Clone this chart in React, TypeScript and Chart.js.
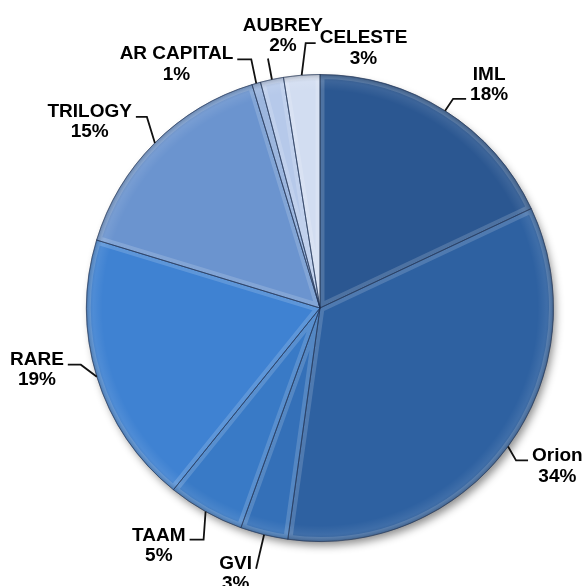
import React, { useEffect, useRef } from "react";
import { Chart, registerables } from "chart.js";

Chart.register(...registerables);

const CATEGORIES = ["IML", "Orion", "GVI", "TAAM", "RARE", "TRILOGY", "AR CAPITAL", "AUBREY", "CELESTE"];
const VALUES = [18.0, 34.2, 3.3, 5.3, 18.9, 15.6, 0.6, 1.6, 2.5];
const PERCENT_LABELS = ["18%", "34%", "3%", "5%", "19%", "15%", "1%", "2%", "3%"];
const COLORS = ["#2b5791", "#2e61a1", "#3470b8", "#397ac6", "#3f82d2", "#6b94cf", "#8aa8d8", "#b6c9ea", "#d2ddf1"];

// leader-line layout per label: elbow offset from slice edge, horizontal run, text side, name baseline offset
const LABEL_LAYOUT = [
  { elbow: [8, -12], run: 13, side: "right", nameDy: -19 },
  { elbow: [8, 14], run: 12, side: "right", nameDy: 1 },
  { elbow: [-8, 34], run: 0, side: "left", nameDy: 0 },
  { elbow: [-2, 28], run: -14, side: "left", nameDy: 1 },
  { elbow: [-16, -12], run: -13, side: "left", nameDy: 0 },
  { elbow: [-8, -26], run: -11, side: "left", nameDy: 0 },
  { elbow: [-5, -24], run: -14, side: "left", nameDy: 0 },
  { elbow: [-4, -21], run: 0, side: "above", nameDy: -28 },
  { elbow: [4, -32], run: 10, side: "right", nameDy: 0 },
];

const FONT = 'bold 19px "Liberation Sans", Arial, sans-serif';
const LINE_GAP = 20.5;

function arcPath(ctx: CanvasRenderingContext2D, p: any) {
  ctx.beginPath();
  ctx.moveTo(p.x, p.y);
  ctx.arc(p.x, p.y, p.outerRadius, p.startAngle, p.endAngle);
  ctx.closePath();
}

const shadowPlugin = {
  id: "pieShadow",
  beforeDatasetsDraw(chart: any) {
    const meta = chart.getDatasetMeta(0);
    const arc = meta.data[0];
    if (!arc) return;
    const { x, y, outerRadius } = arc.getProps(["x", "y", "outerRadius"], true);
    const ctx = chart.ctx;
    ctx.save();
    ctx.shadowColor = "rgba(0,0,0,0.45)";
    ctx.shadowBlur = 9;
    ctx.shadowOffsetX = 3;
    ctx.shadowOffsetY = 5;
    ctx.beginPath();
    ctx.arc(x, y, outerRadius - 1, 0, Math.PI * 2);
    ctx.fillStyle = "#2e61a1";
    ctx.fill();
    ctx.restore();
  },
  afterDatasetsDraw(chart: any) {
    const meta = chart.getDatasetMeta(0);
    const arc0 = meta.data[0];
    if (!arc0) return;
    const { x, y, outerRadius } = arc0.getProps(["x", "y", "outerRadius"], true);
    const ctx = chart.ctx;
    ctx.save();

    // bevel highlight along each slice's edges
    meta.data.forEach((arc: any) => {
      const p = arc.getProps(["x", "y", "startAngle", "endAngle", "outerRadius"], true);
      ctx.save();
      arcPath(ctx, p);
      ctx.clip();
      arcPath(ctx, p);
      ctx.lineJoin = "round";
      ctx.strokeStyle = "rgba(255,255,255,0.16)";
      ctx.lineWidth = 9;
      ctx.stroke();
      ctx.restore();
    });

    const R = outerRadius;
    const g = ctx.createRadialGradient(x, y, 0, x, y, R);
    g.addColorStop(0, "rgba(255,255,255,0)");
    g.addColorStop((R - 16) / R, "rgba(255,255,255,0)");
    g.addColorStop((R - 7) / R, "rgba(255,255,255,0.08)");
    g.addColorStop(1, "rgba(0,0,0,0.18)");
    ctx.beginPath();
    ctx.arc(x, y, R, 0, Math.PI * 2);
    ctx.fillStyle = g;
    ctx.fill();

    // thin separators
    meta.data.forEach((arc: any) => {
      const p = arc.getProps(["x", "y", "startAngle", "endAngle", "outerRadius"], true);
      arcPath(ctx, p);
      ctx.strokeStyle = "rgba(25,45,80,0.45)";
      ctx.lineWidth = 0.8;
      ctx.stroke();
    });

    // labels
    ctx.font = FONT;
    ctx.fillStyle = "#000";
    ctx.strokeStyle = "#111";
    ctx.lineWidth = 1.8;
    ctx.lineJoin = "miter";
    ctx.textAlign = "center";
    ctx.textBaseline = "alphabetic";
    meta.data.forEach((arc: any, i: number) => {
      const p = arc.getProps(["x", "y", "startAngle", "endAngle", "outerRadius"], true);
      const mid = (p.startAngle + p.endAngle) / 2;
      const lay = LABEL_LAYOUT[i];
      const p0x = p.x + Math.cos(mid) * p.outerRadius;
      const p0y = p.y + Math.sin(mid) * p.outerRadius;
      const p1x = p0x + lay.elbow[0];
      const p1y = p0y + lay.elbow[1];
      const p2x = p1x + lay.run;
      const p2y = p1y;
      ctx.beginPath();
      ctx.moveTo(p0x, p0y);
      ctx.lineTo(p1x, p1y);
      if (lay.run !== 0) ctx.lineTo(p2x, p2y);
      ctx.stroke();

      const name = CATEGORIES[i];
      const pct = PERCENT_LABELS[i];
      const w = Math.max(ctx.measureText(name).width, ctx.measureText(pct).width);
      let cx: number;
      if (lay.side === "right") cx = p2x + 4 + w / 2;
      else if (lay.side === "left") cx = p2x - 4 - w / 2;
      else cx = p1x + 15;
      const nameY = p2y + lay.nameDy;
      ctx.fillText(name, cx, nameY);
      ctx.fillText(pct, cx, nameY + LINE_GAP);
    });
    ctx.restore();
  },
};

export default function App() {
  const ref = useRef<HTMLCanvasElement | null>(null);
  useEffect(() => {
    if (!ref.current) return;
    const chart = new Chart(ref.current, {
      type: "pie",
      data: {
        labels: CATEGORIES,
        datasets: [
          {
            data: VALUES,
            backgroundColor: COLORS,
            borderColor: "rgba(25,45,80,0.5)",
            borderWidth: 1,
          },
        ],
      },
      options: {
        responsive: false,
        animation: false,
        layout: { padding: { left: 86, right: 28, top: 74, bottom: 44 } },
        plugins: {
          legend: { display: false },
          tooltip: { enabled: false },
        },
      },
      plugins: [shadowPlugin],
    });
    return () => chart.destroy();
  }, []);
  return (
    <div style={{ position: "fixed", left: 0, top: 0, width: 582, height: 586, background: "#fff" }}>
      <canvas ref={ref} width={582} height={586} />
    </div>
  );
}
